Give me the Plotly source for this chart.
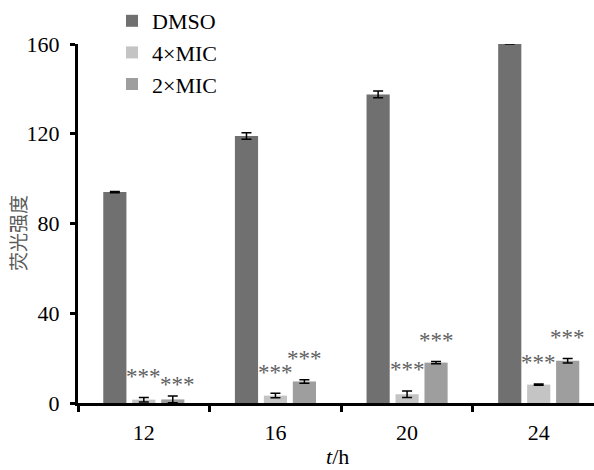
import plotly.graph_objects as go

categories = ["12", "16", "20", "24"]
series_names = ["DMSO", "4×MIC", "2×MIC"]
dmso = [94, 119, 137.5, 160]
dmso_err = [0.3, 1.5, 1.5, 0]
mic4 = [1.5, 3.3, 3.9, 8.2]
mic4_err = [1.0, 1.0, 1.5, 0.3]
mic2 = [1.6, 9.6, 18.0, 18.8]
mic2_err = [1.5, 0.8, 0.5, 1.0]
sig_mic4 = ["***", "***", "***", "***"]
sig_mic2 = ["***", "***", "***", "***"]
y_ticks = [0, 40, 80, 120, 160]

colors = ["#707070", "#c4c4c4", "#9e9e9e"]
serif = "Liberation Serif"

W, H = 594, 470
ML, MR, MT, MB = 78, 0, 0, 67
plot_h = H - MT - MB
top_px = 44  # pixel of y=160
dom_top = (H - MB - top_px) / plot_h

fig = go.Figure()
for name, vals, errs, col in zip(series_names, [dmso, mic4, mic2],
                                 [dmso_err, mic4_err, mic2_err], colors):
    fig.add_trace(go.Bar(
        x=categories, y=vals, name=name,
        marker=dict(color=col, line=dict(width=0)),
        error_y=dict(type="data", array=errs, visible=True,
                     color="black", thickness=1.5, width=5),
    ))

slot_px = 29
star_font = dict(family=serif, size=23, color="#606060")
ann = []
for i, c in enumerate(categories):
    ann.append(dict(x=i, y=mic4[i] + mic4_err[i], xref="x", yref="y",
                    text=sig_mic4[i], showarrow=False, xshift=0,
                    yshift=21, yanchor="middle", font=star_font))
    ys = 12 if i == 0 else 21
    xs = slot_px + 5 if i == 0 else slot_px
    ann.append(dict(x=i, y=mic2[i] + mic2_err[i], xref="x", yref="y",
                    text=sig_mic2[i], showarrow=False, xshift=xs,
                    yshift=ys, yanchor="middle", font=star_font))

# axis titles as annotations
ann.append(dict(x=(337 - ML) / (W - ML - MR), y=-(456 - (H - MB)) / plot_h,
                xref="paper", yref="paper", text="<i>t</i>/h",
                showarrow=False, xanchor="center", yanchor="middle",
                font=dict(family=serif, size=22, color="black")))
ann.append(dict(x=-(ML - 17) / (W - ML - MR), y=(H - MB - 233) / plot_h,
                xref="paper", yref="paper", text="荧光强度", textangle=-90,
                showarrow=False, xanchor="center", yanchor="middle",
                font=dict(family="Noto Sans CJK SC", size=19, color="#5a5a5a")))

fig.update_layout(
    width=W, height=H,
    margin=dict(l=ML, r=MR, t=MT, b=MB),
    plot_bgcolor="white", paper_bgcolor="white",
    barmode="group", bargap=0.34, bargroupgap=0.2,
    font=dict(family=serif, size=22, color="black"),
    showlegend=True,
    legend=dict(x=(112 - ML) / (W - ML - MR), y=1.0, xanchor="left", yanchor="top",
                bgcolor="rgba(0,0,0,0)", font=dict(family=serif, size=22),
                tracegroupgap=0, itemwidth=30),
    xaxis=dict(
        type="category", range=[-0.5, 3.42], automargin=False,
        showline=True, linecolor="black", linewidth=3,
        ticks="outside", tickson="boundaries", ticklen=6, tickwidth=3,
        tickcolor="black", showgrid=False, zeroline=False,
        ticklabelstandoff=8,
    ),
    yaxis=dict(
        range=[0, 160], tickvals=y_ticks, domain=[0, dom_top], automargin=False,
        showline=True, linecolor="black", linewidth=3,
        ticks="outside", ticklen=5, tickwidth=3, tickcolor="black",
        showgrid=False, zeroline=False, ticklabelstandoff=6,
    ),
    annotations=ann,
)

fig.write_html("out.html", post_script="document.body.style.margin='0';",
               config={"displayModeBar": False})
